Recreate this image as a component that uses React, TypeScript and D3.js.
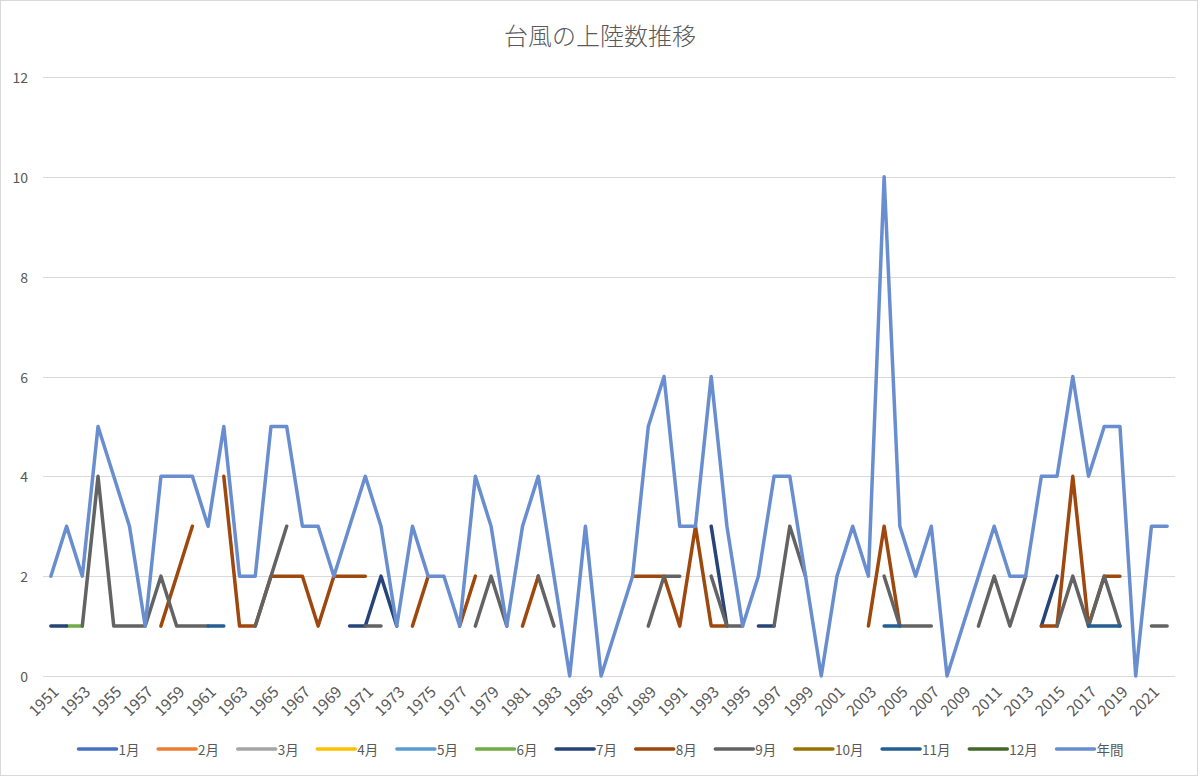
import React from "react";
import * as d3 from "d3";

const years: number[] = d3.range(1951, 2023);

const annual: number[] = [
  2, 3, 2, 5, 4, 3, 1, 4, 4, 4, 3, 5, 2, 2, 5, 5, 3, 3, 2, 3, 4, 3, 1, 3, 2, 2, 1, 4, 3, 1,
  3, 4, 2, 0, 3, 0, 1, 2, 5, 6, 3, 3, 6, 3, 1, 2, 4, 4, 2, 0, 2, 3, 2, 10, 3, 2, 3, 0, 1, 2,
  3, 2, 2, 4, 4, 6, 4, 5, 5, 0, 3, 3,
];

type Pt = [number, number];
const jan: Pt[] = [];
const feb: Pt[] = [];
const mar: Pt[] = [];
const apr: Pt[] = [];
const may: Pt[] = [];
const jun: Pt[] = [[1952, 1], [1953, 1]];
const jul: Pt[] = [
  [1951, 1], [1952, 1], [1970, 1], [1971, 1], [1972, 2], [1973, 1], [1993, 3], [1994, 1],
  [1996, 1], [1997, 1], [2014, 1], [2015, 2],
];
const aug: Pt[] = [
  [1958, 1], [1959, 2], [1960, 3], [1962, 4], [1963, 1], [1964, 1], [1965, 2], [1966, 2],
  [1967, 2], [1968, 1], [1969, 2], [1970, 2], [1971, 2], [1974, 1], [1975, 2], [1977, 1],
  [1978, 2], [1981, 1], [1982, 2], [1988, 2], [1989, 2], [1990, 2], [1991, 1], [1992, 3],
  [1993, 1], [1994, 1], [2003, 1], [2004, 3], [2005, 1], [2014, 1], [2015, 1], [2016, 4],
  [2017, 1], [2018, 2], [2019, 2],
];
const sep: Pt[] = [
  [1953, 1], [1954, 4], [1955, 1], [1956, 1], [1957, 1], [1958, 2], [1959, 1], [1960, 1],
  [1961, 1], [1964, 1], [1965, 2], [1966, 3], [1971, 1], [1972, 1], [1978, 1], [1979, 2],
  [1980, 1], [1982, 2], [1983, 1], [1989, 1], [1990, 2], [1991, 2], [1993, 2], [1994, 1],
  [1995, 1], [1997, 1], [1998, 3], [1999, 2], [2004, 2], [2005, 1], [2006, 1], [2007, 1],
  [2010, 1], [2011, 2], [2012, 1], [2013, 2], [2015, 1], [2016, 2], [2017, 1], [2018, 2],
  [2019, 1], [2021, 1], [2022, 1],
];
const oct: Pt[] = [];
const nov: Pt[] = [
  [1961, 1], [1962, 1], [2004, 1], [2005, 1], [2017, 1], [2018, 1], [2019, 1],
];
const dec: Pt[] = [];

const seriesNames: string[] = [
  "1月", "2月", "3月", "4月", "5月", "6月", "7月", "8月", "9月", "10月", "11月", "12月", "年間",
];
const seriesColors: string[] = [
  "#4472C4", "#ED7D31", "#A5A5A5", "#FFC000", "#5B9BD5", "#70AD47", "#264478", "#9E480E",
  "#636363", "#997300", "#255E91", "#43682B", "#698ED0",
];
const yTicks: number[] = [0, 2, 4, 6, 8, 10, 12];
const title = "台風の上陸数推移";

const W = 1200;
const H = 776;
const FONT = "'Noto Sans CJK JP', 'Noto Sans', sans-serif";
const TXT = "#595959";

function expand(pts: Pt[]): (number | null)[] {
  const m = new Map(pts);
  return years.map((y) => (m.has(y) ? (m.get(y) as number) : null));
}

export default function App() {
  const x = d3.scaleBand<number>().domain(years).range([43, 1175]);
  const cx = (yr: number) => (x(yr) as number) + x.bandwidth() / 2;
  const y = d3.scaleLinear().domain([0, 12]).range([676, 77]);

  const monthly = [jan, feb, mar, apr, may, jun, jul, aug, sep, oct, nov, dec].map(expand);
  const allSeries: (number | null)[][] = [...monthly, annual];

  const line = d3
    .line<number | null>()
    .defined((d) => d !== null)
    .x((_, i) => cx(years[i]))
    .y((d) => y(d as number));

  // legend layout
  const textW = (s: string) =>
    Array.from(s).reduce((a, c) => a + (/[0-9]/.test(c) ? 7.6 : 14), 0);
  const lineLen = 38;
  const items = seriesNames.map((n) => ({ n, w: lineLen + 3 + textW(n) }));
  const gapAfter = 17;
  const total = items.reduce((a, it) => a + it.w, 0) + gapAfter * (items.length - 1);
  let lx = 602 - total / 2;
  const legendPos = items.map((it) => {
    const p = lx;
    lx += it.w + gapAfter;
    return p;
  });
  const ly = 749;

  return (
    <div style={{ position: "absolute", left: 0, top: 0 }}>
      <svg width={W} height={H} style={{ display: "block", fontFamily: FONT }}>
        <rect x={0} y={0} width={W} height={H} fill="#ffffff" />
        <rect x={0.5} y={0.5} width={1197} height={775} fill="none" stroke="#D9D9D9" />
        <text
          x={600}
          y={45}
          textAnchor="middle"
          fontSize={24}
          fill={TXT}
          fontWeight={300}
        >
          {title}
        </text>
        {yTicks.map((t) => (
          <g key={t}>
            <line
              x1={43}
              x2={1175}
              y1={Math.round(y(t)) + 0.5}
              y2={Math.round(y(t)) + 0.5}
              stroke="#D9D9D9"
              strokeWidth={1}
            />
            <text
              x={28}
              y={y(t)}
              textAnchor="end"
              dominantBaseline="central"
              fontSize={14}
              fill={TXT}
            >
              {t}
            </text>
          </g>
        ))}
        {years
          .filter((yr) => (yr - 1951) % 2 === 0)
          .map((yr) => (
            <text
              key={yr}
              transform={`translate(${cx(yr) + 4},${688}) rotate(-45)`}
              textAnchor="end"
              dominantBaseline="central"
              fontSize={15.5}
              fill={TXT}
            >
              {yr}
            </text>
          ))}
        {allSeries.map((s, i) => (
          <path
            key={i}
            d={line(s) || ""}
            fill="none"
            stroke={seriesColors[i]}
            strokeWidth={3.5}
            strokeLinejoin="round"
            strokeLinecap="round"
          />
        ))}
        {items.map((it, i) => (
          <g key={it.n}>
            <line
              x1={legendPos[i]}
              x2={legendPos[i] + lineLen}
              y1={ly}
              y2={ly}
              stroke={seriesColors[i]}
              strokeWidth={3.5}
              strokeLinecap="round"
            />
            <text
              x={legendPos[i] + lineLen + 2}
              y={ly}
              dominantBaseline="central"
              fontSize={13.5}
              fill={TXT}
            >
              {it.n}
            </text>
          </g>
        ))}
      </svg>
    </div>
  );
}
